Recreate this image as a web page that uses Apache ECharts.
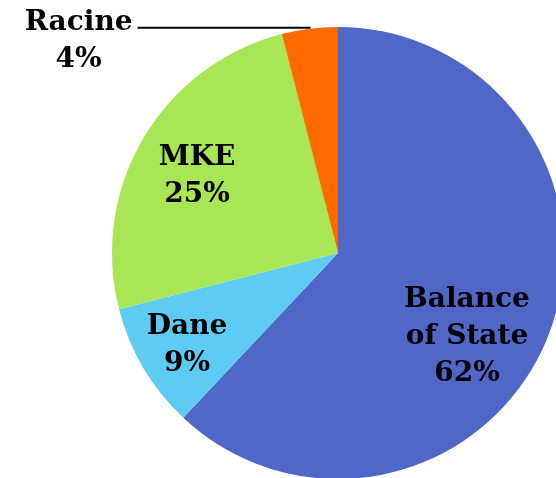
<!DOCTYPE html>
<html>
<head>
<meta charset="utf-8">
<script src="https://cdn.jsdelivr.net/npm/echarts@6/dist/echarts.min.js"></script>
<style>
html, body { margin: 0; padding: 0; background: #fff; }
#chart { width: 556px; height: 478px; }
</style>
</head>
<body>
<div id="chart"></div>
<script>
// 数据
var regionNames = ['Balance of State', 'Dane', 'MKE', 'Racine'];
var regionShares = [62, 9, 25, 4];
var labelTexts = ['Balance\nof State', 'Dane', 'MKE', 'Racine'];

var sliceColors = ['#5067C8', '#5DCBF3', '#A9E655', '#FF6A00'];
// 标签中心位置（像素）
var labelSpots = {
    'Balance of State': [467, 337],
    'Dane': [187, 345],
    'MKE': [197, 176]
};

var chart = echarts.init(document.getElementById('chart'));

var seriesData = regionNames.map(function (name, i) {
    var item = {
        name: name,
        value: regionShares[i],
        itemStyle: { color: sliceColors[i] }
    };
    if (name === 'Racine') {
        item.label = {
            position: 'outside',
            padding: [26, 0, 0, 0],
            formatter: '{a|' + labelTexts[i] + '}\n{a|{c}%}'
        };
        item.labelLine = { show: true, length: 1, length2: 172 };
    } else {
        item.label = {
            position: 'inside',
            formatter: labelTexts[i] + '\n{c}%'
        };
        item.labelLine = { show: false };
    }
    return item;
});

var option = {
    animation: false,
    series: [{
        type: 'pie',
        center: [338, 253],
        radius: [0, 226],
        startAngle: 90,
        clockwise: true,
        avoidLabelOverlap: false,
        label: {
            color: '#000',
            fontFamily: 'DejaVu Serif',
            fontWeight: 'bold',
            fontSize: 28,
            lineHeight: 37,
            align: 'center',
            rich: {
                a: {
                    color: '#000',
                    fontFamily: 'DejaVu Serif',
                    fontWeight: 'bold',
                    fontSize: 28,
                    lineHeight: 37,
                    align: 'center'
                }
            }
        },
        labelLine: {
            lineStyle: { color: '#000', width: 2 }
        },
        labelLayout: function (params) {
            var spot = labelSpots[params.dataIndex !== undefined ? regionNames[params.dataIndex] : ''];
            if (spot) {
                return { x: spot[0], y: spot[1], align: 'center', verticalAlign: 'middle' };
            }
            return {};
        },
        data: seriesData
    }]
};

chart.setOption(option);
</script>
</body>
</html>
